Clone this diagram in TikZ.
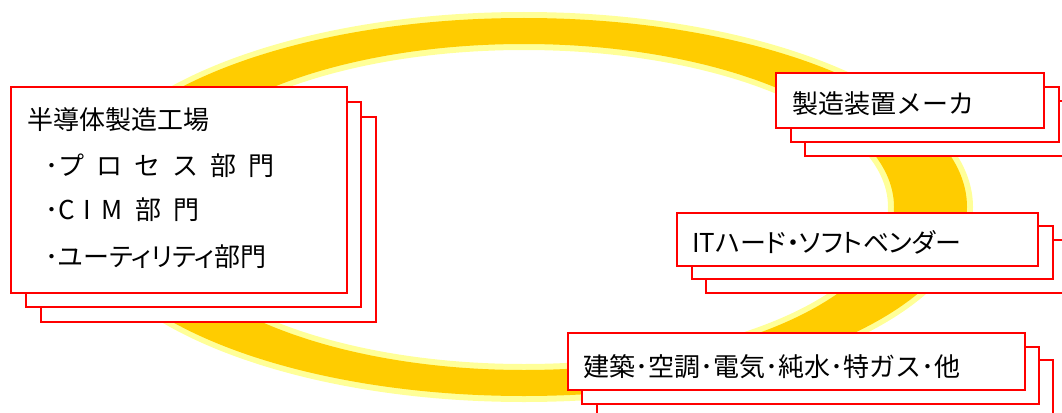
\documentclass[tikz,border=0pt]{standalone}
\usepackage{fontspec}
\usetikzlibrary{calc}
\newfontfamily\jp{Noto Sans CJK JP}
\newfontfamily\jpp[RawFeature=+palt]{Noto Sans CJK JP}
\definecolor{ringdark}{HTML}{FFCC00}
\definecolor{ringlight}{HTML}{FFFF99}
\definecolor{boxred}{HTML}{FF0000}
\newcommand\gp{\hspace{12pt}}
\begin{document}
\begin{tikzpicture}[x=1pt,y=-1pt,
  card/.style={draw=boxred, line width=2.6pt, fill=white, inner sep=0pt, outer sep=0pt, anchor=north west},
  lbl/.style={anchor=west, inner sep=0pt, font=\jp\fontsize{26}{30}\selectfont, text height=22pt, text depth=3pt},
  plbl/.style={lbl, font=\jpp\fontsize{26}{30}\selectfont},
]
\useasboundingbox (0,0) rectangle (1062,412);
\clip (0,0) rectangle (1062,412);
% ring
\fill[ringlight, even odd rule] (524,207) ellipse [x radius=449, y radius=195]
  (524,207) ellipse [x radius=364, y radius=157];
\fill[ringdark, even odd rule] (524,207) ellipse [x radius=443, y radius=189]
  (524,207) ellipse [x radius=370, y radius=163];
% left stack
\node[card, minimum width=335, minimum height=205] (L3) at (41,117) {};
\node[card, minimum width=335, minimum height=205] (L2) at (26,102) {};
\node[card, minimum width=336, minimum height=206] (L1) at (11,87) {};
\node[lbl] (Lt1) at ($(L1.north west)+(16,33)$) {半導体製造工場};
\node[lbl] (Lt2) at ($(L1.north west)+(34,79)$) {･プ\gp ロ\gp セ\gp ス\gp 部\gp 門};
\node[lbl] (Lt3) at ($(L1.north west)+(34,123)$) {･C\hspace{9pt}I\hspace{10pt}M\hspace{13pt}部\hspace{12pt}門};
\node[plbl] (Lt4) at ($(L1.north west)+(34,170)$) {･ユーティリティ部門};
% stack 1
\node[card, minimum width=268, minimum height=55] (A3) at (805,101) {};
\node[lbl] (A3t) at ($(A3.north west)+(16,28)$) {製造装置メーカ};
\node[card, minimum width=268, minimum height=55] (A2) at (791,87) {};
\node[lbl] (A2t) at ($(A2.north west)+(16,28)$) {製造装置メーカ};
\node[card, minimum width=268, minimum height=55] (A1) at (776,73) {};
\node[lbl] (A1t) at ($(A1.north west)+(16,31)$) {製造装置メーカ};
% stack 2
\node[card, minimum width=361, minimum height=53] (B3) at (706,240) {};
\node[plbl] (B3t) at ($(B3.north west)+(15,27)$) {ITハード・ソフトベンダー};
\node[card, minimum width=361, minimum height=53] (B2) at (692,226) {};
\node[plbl] (B2t) at ($(B2.north west)+(15,27)$) {ITハード・ソフトベンダー};
\node[card, minimum width=361, minimum height=53] (B1) at (677,213) {};
\node[plbl] (B1t) at ($(B1.north west)+(15,30)$) {ITハード・ソフトベンダー};
% stack 3
\node[card, minimum width=456, minimum height=57] (C3) at (597,360) {};
\node[lbl] (C3t) at ($(C3.north west)+(15,31)$) {建築･空調･電気･純水･特ガス･他};
\node[card, minimum width=457, minimum height=57] (C2) at (582,347) {};
\node[lbl] (C2t) at ($(C2.north west)+(15,31)$) {建築･空調･電気･純水･特ガス･他};
\node[card, minimum width=457, minimum height=57] (C1) at (568,333) {};
\node[lbl] (C1t) at ($(C1.north west)+(15,34)$) {建築･空調･電気･純水･特ガス･他};
\end{tikzpicture}
\end{document}
